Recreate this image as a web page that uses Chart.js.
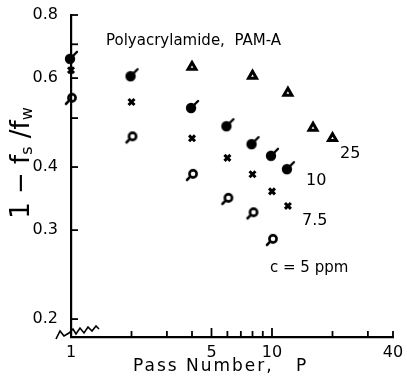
<!DOCTYPE html>
<html>
<head>
<meta charset="utf-8">
<script src="https://cdn.jsdelivr.net/npm/chart.js@4"></script>
<style>
  body { margin: 0; background: #fff; }
  canvas { display: block; }
</style>
</head>
<body>
<canvas id="chart" width="407" height="382"></canvas>
<script>
// pass numbers and 1 - fs/fw, one pair per concentration
const pass25 = [4, 8, 12, 16, 20];
const val25 = [0.631, 0.606, 0.561, 0.478, 0.456];
const pass10 = [1, 2, 4, 6, 8, 10, 12];
const val10 = [0.658, 0.608, 0.526, 0.484, 0.446, 0.423, 0.398];
const pass75 = [1, 2, 4, 6, 8, 10, 12];
const val75 = [0.622, 0.538, 0.456, 0.417, 0.387, 0.358, 0.335];
const pass5 = [1, 2, 4, 6, 8, 10];
const val5 = [0.546, 0.458, 0.386, 0.346, 0.324, 0.287];

const xTicks = [1, 2, 3, 4, 5, 6, 7, 8, 9, 10, 20, 30, 40];
const xLabels = [1, 5, 10, 40];
const yTicks = [0.2, 0.3, 0.4, 0.5, 0.6, 0.7, 0.8];
const yLabels = [0.2, 0.3, 0.4, 0.6, 0.8];

const FONT = "'DejaVu Sans', sans-serif";

function toPoints(xs, ys) {
    return xs.map((x, i) => ({ x: x, y: ys[i] }));
}

// little marker pictures: filled circle with a tail, open circle with a tail
function filledTail() {
    const c = document.createElement("canvas");
    c.width = 20; c.height = 20;
    const g = c.getContext("2d");
    g.fillStyle = "#000";
    g.beginPath(); g.arc(9, 11, 5.2, 0, Math.PI * 2); g.fill();
    g.strokeStyle = "#000"; g.lineWidth = 2.4; g.lineCap = "round";
    g.beginPath(); g.moveTo(11, 9); g.lineTo(16, 4); g.stroke();
    return c;
}

function openTail() {
    const c = document.createElement("canvas");
    c.width = 18; c.height = 18;
    const g = c.getContext("2d");
    g.strokeStyle = "#000"; g.lineWidth = 2.6; g.lineCap = "round";
    g.beginPath(); g.arc(10, 8, 3.6, 0, Math.PI * 2); g.stroke();
    g.beginPath(); g.moveTo(7.3, 10.7); g.lineTo(4, 14); g.stroke();
    return c;
}

const decorations = {
    id: "decorations",
    afterDraw(chart) {
        const ctx = chart.ctx;
        const xs = chart.scales.x, ys = chart.scales.y;
        const area = chart.chartArea;
        ctx.save();
        ctx.strokeStyle = "#000";
        ctx.fillStyle = "#000";

        // inward ticks
        ctx.lineWidth = 1.8;
        xTicks.forEach(v => {
            const px = xs.getPixelForValue(v);
            const len = (v === 5 || v === 10) ? 9 : 6;
            ctx.beginPath(); ctx.moveTo(px, area.bottom); ctx.lineTo(px, area.bottom - len); ctx.stroke();
        });
        yTicks.forEach(v => {
            const py = ys.getPixelForValue(v);
            ctx.beginPath(); ctx.moveTo(area.left, py); ctx.lineTo(area.left + 7, py); ctx.stroke();
        });

        // axis break squiggle
        ctx.lineWidth = 1.6;
        ctx.beginPath();
        const sq = [[56, 339], [60, 331], [64, 336], [69, 333], [73, 329], [76, 334], [80, 328], [84, 333], [88, 327], [92, 331], [96, 326], [99, 329]];
        sq.forEach((p, i) => i ? ctx.lineTo(p[0], p[1]) : ctx.moveTo(p[0], p[1]));
        ctx.stroke();

        // texts
        ctx.textBaseline = "middle";
        ctx.textAlign = "left";
        ctx.font = "15px " + FONT;
        ctx.fillText("Polyacrylamide,  PAM-A", 106, 41);
        ctx.font = "16px " + FONT;
        ctx.fillText("25", 340, 154);
        ctx.fillText("10", 306, 181);
        ctx.fillText("7.5", 302, 221);
        ctx.font = "15px " + FONT;
        ctx.fillText("c = 5 ppm", 270, 268);

        ctx.font = "17px " + FONT;
        ctx.letterSpacing = "2px";
        ctx.fillText("Pass Number,   P", 133, 367);
        ctx.letterSpacing = "0px";

        // y title: 1 - fs/fw, rotated
        ctx.translate(22, 163);
        ctx.rotate(-Math.PI / 2);
        const big = "26px " + FONT, small = "16px " + FONT;
        const parts = [["1", big, 0], [" \u2212 ", big, 0], ["f", big, 0], ["s", small, 6], [" /", big, 0], ["f", big, 0], ["w", small, 6]];
        let total = 0;
        parts.forEach(p => { ctx.font = p[1]; total += ctx.measureText(p[0]).width; });
        let cx = -total / 2;
        parts.forEach(p => {
            ctx.font = p[1];
            ctx.fillText(p[0], cx, p[2]);
            cx += ctx.measureText(p[0]).width;
        });
        ctx.restore();
    }
};

new Chart(document.getElementById("chart"), {
    type: "scatter",
    data: {
        datasets: [
            { label: "25", data: toPoints(pass25, val25), pointStyle: "triangle", radius: 4.6,
              backgroundColor: "#fff", borderColor: "#000", borderWidth: 3, clip: false },
            { label: "10", data: toPoints(pass10, val10), pointStyle: filledTail(), clip: false },
            { label: "7.5", data: toPoints(pass75, val75), pointStyle: "crossRot", radius: 4.2,
              borderColor: "#000", borderWidth: 3, clip: false },
            { label: "5", data: toPoints(pass5, val5), pointStyle: openTail(), clip: false }
        ]
    },
    options: {
        responsive: false,
        animation: false,
        layout: { padding: { top: 15, right: 14, left: 0, bottom: 0 } },
        plugins: { legend: { display: false }, tooltip: { enabled: false } },
        scales: {
            x: {
                type: "logarithmic",
                min: 1, max: 40,
                afterBuildTicks: s => { s.ticks = xTicks.map(v => ({ value: v })); },
                afterFit: s => { s.height = 45; },
                grid: { display: false },
                border: { display: true, color: "#000", width: 2.2 },
                ticks: {
                    autoSkip: false, maxRotation: 0, padding: -2, color: "#000",
                    font: { family: FONT, size: 16 },
                    callback: v => xLabels.includes(v) ? String(v) : ""
                }
            },
            y: {
                type: "logarithmic",
                min: 0.1843, max: 0.8,
                afterBuildTicks: s => { s.ticks = yTicks.map(v => ({ value: v })); },
                afterFit: s => { s.width = 71; },
                grid: { display: false },
                border: { display: true, color: "#000", width: 2.2 },
                ticks: {
                    autoSkip: false, padding: 5, color: "#000",
                    font: { family: FONT, size: 16 },
                    callback: v => yLabels.includes(v) ? String(v) : ""
                }
            }
        }
    },
    plugins: [decorations]
});
</script>
</body>
</html>
